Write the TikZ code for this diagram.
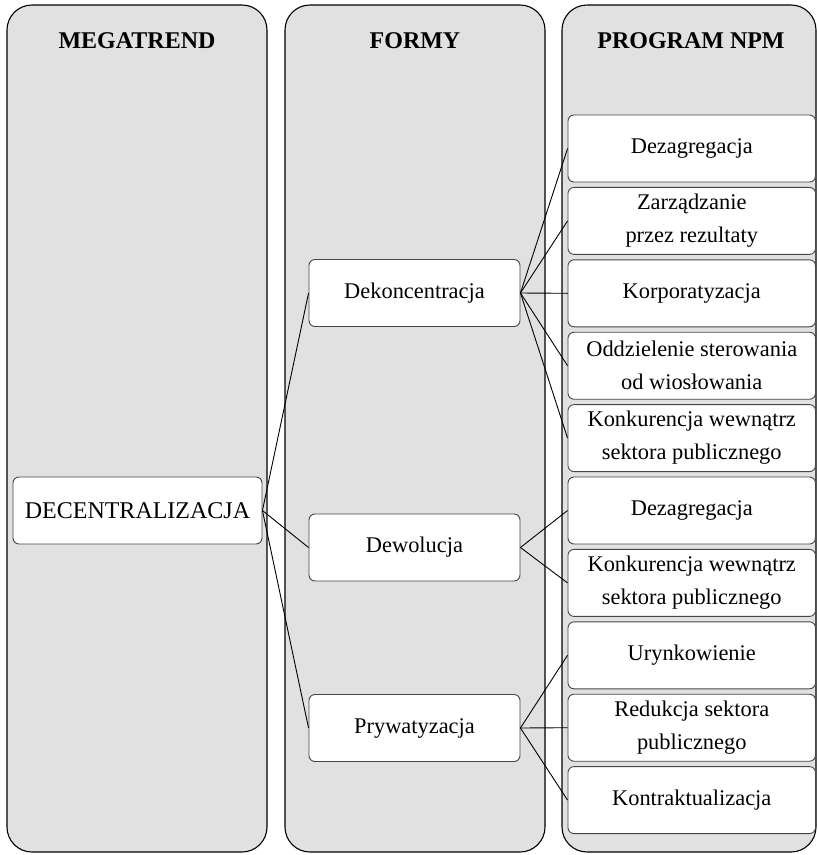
\documentclass[tikz,border=0pt]{standalone}
\usepackage{fontspec}
\setmainfont{Liberation Serif}
\definecolor{panelgray}{RGB}{225,225,225}
\definecolor{boxborder}{RGB}{70,70,70}
\begin{document}
\begin{tikzpicture}[x=1pt,y=-1pt,
  panel/.style={draw=black, line width=1.1pt, fill=panelgray, rounded corners=25pt},
  head/.style={font=\fontsize{24}{28}\selectfont\bfseries, inner sep=0pt},
  box/.style={draw=boxborder, line width=0.9pt, fill=white, rounded corners=6pt,
    minimum height=67pt, align=center, inner sep=0pt,
    font=\fontsize{22.4}{33}\selectfont},
  rbox/.style={box, minimum width=247.5pt},
  mbox/.style={box, minimum width=211pt},
  conn/.style={draw=black, line width=0.9pt}
]
\useasboundingbox (0,0) rectangle (818,855);
% panels
\path[panel] (7,5) rectangle (267,852);
\path[panel] (285,5) rectangle (545,852);
\path[panel] (562,5) rectangle (816,852);
% headings
\node[head] (h1) at (137,41) {MEGATREND};
\node[head] (h2) at (415,41) {FORMY};
\node[head] (h3) at (691,41) {PROGRAM NPM};
% left
\node[box, minimum width=249pt, font=\fontsize{24}{33}\selectfont] (dec) at (137.5,510.5) {DECENTRALIZACJA};
% middle
\node[mbox] (dek) at (414.5,293) {Dekoncentracja};
\node[mbox] (dew) at (414.5,547.5) {Dewolucja};
\node[mbox] (pry) at (414.5,728) {Prywatyzacja};
% right
\node[rbox] (r1) at (691.75,148.5) {Dezagregacja};
\node[rbox] (r2) at (691.75,220.9) {Zarządzanie\\przez rezultaty};
\node[rbox] (r3) at (691.75,293.3) {Korporatyzacja};
\node[rbox] (r4) at (691.75,365.7) {Oddzielenie sterowania\\od wiosłowania};
\node[rbox] (r5) at (691.75,438.1) {Konkurencja wewnątrz\\sektora publicznego};
\node[rbox] (r6) at (691.75,510.5) {Dezagregacja};
\node[rbox] (r7) at (691.75,582.9) {Konkurencja wewnątrz\\sektora publicznego};
\node[rbox] (r8) at (691.75,655.3) {Urynkowienie};
\node[rbox] (r9) at (691.75,727.7) {Redukcja sektora\\publicznego};
\node[rbox] (r10) at (691.75,800.1) {Kontraktualizacja};
% connectors
\draw[conn] (dec.east) -- (dek.west);
\draw[conn] (dec.east) -- (dew.west);
\draw[conn] (dec.east) -- (pry.west);
\foreach \t in {r1,r2,r3,r4,r5} \draw[conn] (dek.east) -- (\t.west);
\foreach \t in {r6,r7} \draw[conn] (dew.east) -- (\t.west);
\foreach \t in {r8,r9,r10} \draw[conn] (pry.east) -- (\t.west);
\end{tikzpicture}
\end{document}
